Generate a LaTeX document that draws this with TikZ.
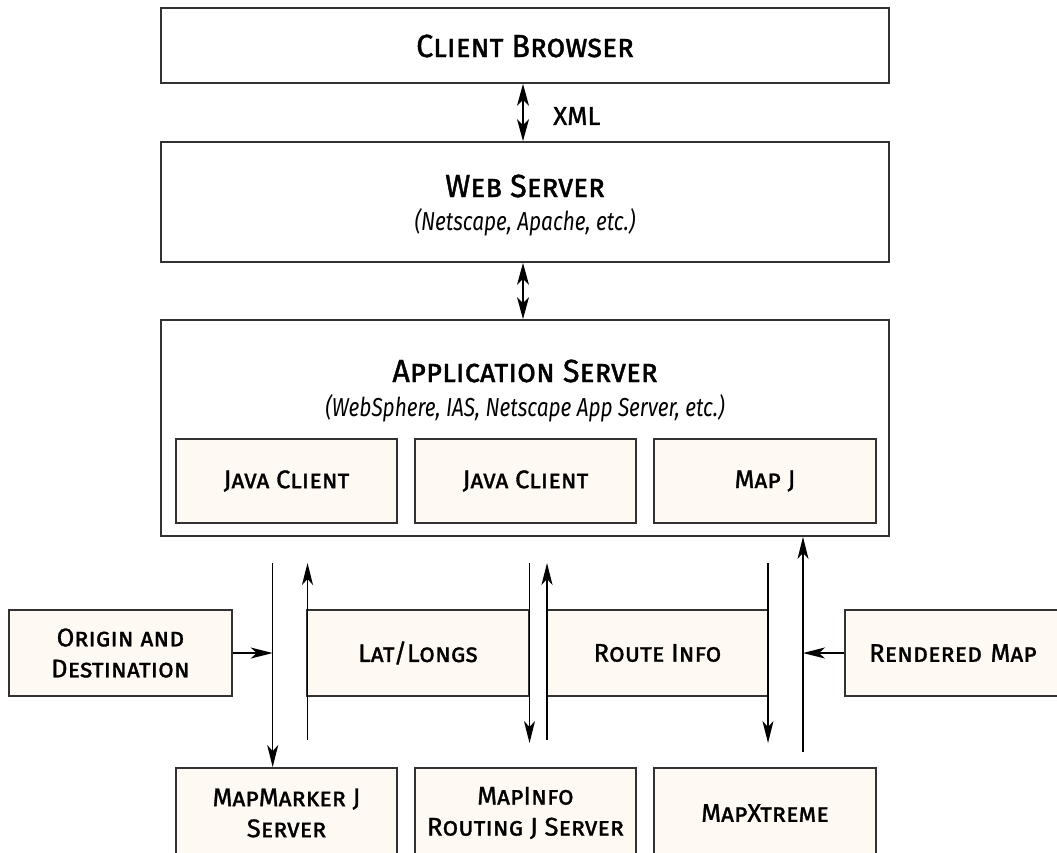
\documentclass[tikz,border=0pt]{standalone}
\usepackage{fontspec}
\setmainfont{Fira Sans}[FakeBold=1.2]
\newfontfamily\titlefont{Fira Sans}[FakeStretch=0.95, FakeBold=1.3]
\newfontfamily\subfont{Fira Sans}[FakeStretch=0.8]
\usetikzlibrary{arrows.meta}
\definecolor{cream}{RGB}{254,249,242}
\definecolor{edge}{RGB}{50,50,50}
\tikzset{
  box/.style={draw=edge, line width=1.8pt, fill=white, inner sep=0pt},
  cbox/.style={draw=edge, line width=1.8pt, fill=cream, inner sep=0pt, align=center, font=\fontsize{25.5}{31}\selectfont\scshape},
  title/.style={font=\titlefont\fontsize{32}{36}\selectfont\scshape, inner sep=0pt},
  sub/.style={font=\subfont\fontsize{26}{30}\selectfont\itshape, inner sep=0pt},
  arr/.style={line width=1.4pt, -{Stealth[length=22pt,width=11pt,inset=6pt]}},
  darr/.style={line width=1.4pt, {Stealth[length=22pt,width=12pt,inset=6pt]}-{Stealth[length=22pt,width=12pt,inset=6pt]}}
}
\begin{document}
\begin{tikzpicture}[x=1pt,y=-1pt]
\clip (0,0) rectangle (1057,852);
\fill[white] (0,0) rectangle (1057,852);
% top boxes
\node[box, minimum width=728pt, minimum height=75pt] (client) at (525,45.5) {};
\node[title] (clientT) at (525,46) {Client Browser};
\node[box, minimum width=728pt, minimum height=120pt] (web) at (525,202) {};
\node[title] (webT) at (525,186) {Web Server};
\node[sub] (webS) at (525,222) {(Netscape, Apache, etc.)};
\node[box, minimum width=728pt, minimum height=216pt] (app) at (525,428) {};
\node[title] (appT) at (525,371) {Application Server};
\node[sub] (appS) at (525,408) {(WebSphere, IAS, Netscape App Server, etc.)};
\node[cbox, minimum width=221pt, minimum height=84pt] (java1) at (286.5,481) {Java Client};
\node[cbox, minimum width=221pt, minimum height=84pt] (java2) at (525.5,481) {Java Client};
\node[cbox, minimum width=222pt, minimum height=84pt] (mapj) at (765,481) {Map J};
% middle row
\node[cbox, minimum width=223pt, minimum height=86pt] (origin) at (120.5,653) {Origin and\\Destination};
\node[cbox, minimum width=222pt, minimum height=86pt] (lat) at (418,653) {Lat/Longs};
\node[cbox, minimum width=221pt, minimum height=86pt] (route) at (657.5,653) {Route Info};
\node[cbox, minimum width=216pt, minimum height=86pt, text width=200pt] (rendered) at (953,653) {Rendered Map};
% bottom row
\node[cbox, minimum width=221pt, minimum height=90pt] (mm) at (286.5,813) {MapMarker J\\Server};
\node[cbox, minimum width=221pt, minimum height=90pt] (mi) at (525.5,813) {MapInfo\\Routing J Server};
\node[cbox, minimum width=222pt, minimum height=90pt] (mx) at (765,813) {MapXtreme};
% connectors top
\draw[darr] ([xshift=-2pt]client.south) -- ([xshift=-2pt]web.north);
\node[font=\fontsize{26}{30}\selectfont, anchor=west, inner sep=0pt] (xml) at (553,116) {XML};
\draw[darr] ([xshift=-2pt]web.south) -- ([xshift=-2pt]app.north);
% vertical flows
\coordinate (d1) at (272.7,563);
\coordinate (u1s) at (307.5,740);
\coordinate (u1e) at (307.5,563);
\coordinate (d2s) at (529.5,563);
\coordinate (d2e) at (529.5,743);
\coordinate (u2s) at (547,740);
\coordinate (u2e) at (547,563);
\coordinate (d3s) at (768,563);
\coordinate (d3e) at (768,743);
\coordinate (u3s) at (803,752);
\draw[arr] (d1) -- (d1 |- mm.north);
\draw[arr] (u1s) -- (u1e);
\draw[arr] (d2s) -- (d2e);
\draw[arr] (u2s) -- (u2e);
\draw[arr] (d3s) -- (d3e);
\draw[arr] (u3s) -- (u3s |- app.south);
\draw[arr] (origin.east) -- (origin.east -| d1);
\draw[arr] (rendered.west) -- (rendered.west -| u3s);
\end{tikzpicture}
\end{document}
